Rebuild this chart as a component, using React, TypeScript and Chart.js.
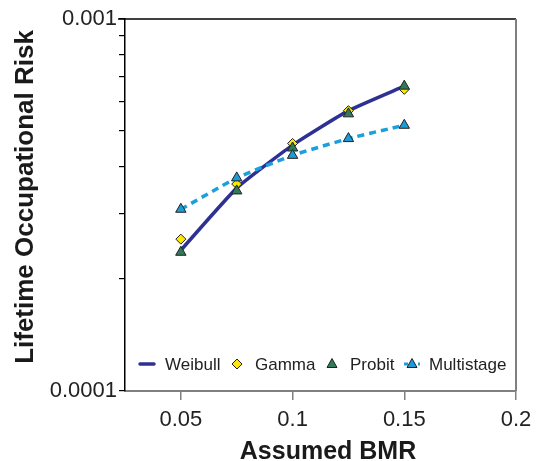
import React, { useEffect, useRef } from 'react';
import { Chart, registerables } from 'chart.js';

Chart.register(...registerables);

// ---- data ----
const bmr = [0.05, 0.075, 0.1, 0.125, 0.15];
const weibull = [2.39e-4, 3.51e-4, 4.58e-4, 5.67e-4, 6.6e-4];
const gamma = [2.56e-4, 3.6e-4, 4.63e-4, 5.67e-4, 6.47e-4];
const probit = [2.36e-4, 3.45e-4, 4.5e-4, 5.56e-4, 6.6e-4];
const multistage = [3.08e-4, 3.74e-4, 4.3e-4, 4.77e-4, 5.18e-4];

const xTicks = [0.05, 0.1, 0.15, 0.2];
const xTickLabels = ['0.05', '0.1', '0.15', '0.2'];
const yTicks = [1e-4, 2e-4, 3e-4, 4e-4, 5e-4, 6e-4, 7e-4, 8e-4, 9e-4, 1e-3];
const yTickLabels = ['0.0001', '', '', '', '', '', '', '', '', '0.001'];

const seriesNames = ['Weibull', 'Gamma', 'Probit', 'Multistage'];
const xTitle = 'Assumed BMR';
const yTitle = 'Lifetime Occupational Risk';

const FONT = '"Liberation Sans", Arial, Helvetica, sans-serif';
const WEIBULL_COLOR = '#2E3192';
const GAMMA_COLOR = '#FFE800';
const PROBIT_COLOR = '#2F7A58';
const MULTI_LINE = '#1AA0DC';
const MULTI_FILL = '#1E9AD6';
const MARKER_BORDER = '#222222';

const pts = (ys: number[]) => bmr.map((x, i) => ({ x, y: ys[i] }));

const framePlugin = {
  id: 'frame',
  afterDraw(chart: any) {
    const { ctx, chartArea: a } = chart;
    ctx.save();
    ctx.strokeStyle = '#000';
    ctx.lineWidth = 1.5;
    ctx.beginPath();
    ctx.moveTo(a.left - 7, a.top);
    ctx.lineTo(a.right, a.top);
    ctx.stroke();
    ctx.strokeStyle = '#808080';
    ctx.lineWidth = 2;
    ctx.beginPath();
    ctx.moveTo(a.right, a.top);
    ctx.lineTo(a.right, a.bottom);
    ctx.stroke();
    ctx.restore();
  },
};

const titlesPlugin = {
  id: 'titles',
  afterDraw(chart: any) {
    const { ctx } = chart;
    ctx.save();
    ctx.fillStyle = '#1a1a1a';
    ctx.textAlign = 'center';
    ctx.textBaseline = 'alphabetic';
    ctx.font = `bold 25px ${FONT}`;
    ctx.fillText(xTitle, 328, 459);
    ctx.translate(33, 197);
    ctx.rotate(-Math.PI / 2);
    ctx.font = `bold 26px ${FONT}`;
    ctx.fillText(yTitle, 0, 0);
    ctx.restore();
  },
};

const legendPlugin = {
  id: 'customLegend',
  afterDraw(chart: any) {
    const { ctx } = chart;
    const y = 364;
    ctx.save();
    ctx.font = `17px ${FONT}`;
    ctx.fillStyle = '#222';
    ctx.textBaseline = 'middle';
    ctx.textAlign = 'left';
    // Weibull
    ctx.strokeStyle = WEIBULL_COLOR;
    ctx.lineWidth = 3.5;
    ctx.lineCap = 'round';
    ctx.beginPath();
    ctx.moveTo(140, y);
    ctx.lineTo(154, y);
    ctx.stroke();
    ctx.lineCap = 'butt';
    ctx.fillText(seriesNames[0], 165, y + 1);
    // Gamma
    ctx.lineWidth = 1;
    ctx.strokeStyle = MARKER_BORDER;
    ctx.fillStyle = GAMMA_COLOR;
    ctx.beginPath();
    ctx.moveTo(237, y - 5);
    ctx.lineTo(242, y);
    ctx.lineTo(237, y + 5);
    ctx.lineTo(232, y);
    ctx.closePath();
    ctx.fill();
    ctx.stroke();
    ctx.fillStyle = '#222';
    ctx.fillText(seriesNames[1], 255, y + 1);
    // Probit
    const tri = (cx: number, fill: string) => {
      ctx.fillStyle = fill;
      ctx.strokeStyle = MARKER_BORDER;
      ctx.lineWidth = 1;
      ctx.beginPath();
      ctx.moveTo(cx, y - 5.5);
      ctx.lineTo(cx + 5, y + 3.5);
      ctx.lineTo(cx - 5, y + 3.5);
      ctx.closePath();
      ctx.fill();
      ctx.stroke();
    };
    tri(332, PROBIT_COLOR);
    ctx.fillStyle = '#222';
    ctx.fillText(seriesNames[2], 350, y + 1);
    // Multistage
    ctx.strokeStyle = MULTI_LINE;
    ctx.lineWidth = 3;
    ctx.setLineDash([4, 3]);
    ctx.beginPath();
    ctx.moveTo(404, y);
    ctx.lineTo(420, y);
    ctx.stroke();
    ctx.setLineDash([]);
    tri(412, MULTI_FILL);
    ctx.fillStyle = '#222';
    ctx.fillText(seriesNames[3], 429, y + 1);
    ctx.restore();
  },
};

export default function App() {
  const ref = useRef<HTMLCanvasElement | null>(null);

  useEffect(() => {
    if (!ref.current) return;
    const chart = new Chart(ref.current, {
      type: 'line',
      data: {
        datasets: [
          {
            label: seriesNames[0],
            data: pts(weibull),
            borderColor: WEIBULL_COLOR,
            borderWidth: 3.5,
            pointRadius: 0,
            tension: 0.15,
            order: 4,
          },
          {
            label: seriesNames[1],
            data: pts(gamma),
            showLine: false,
            pointStyle: 'rectRot',
            pointRadius: 5,
            pointBackgroundColor: GAMMA_COLOR,
            pointBorderColor: MARKER_BORDER,
            pointBorderWidth: 1,
            order: 3,
          },
          {
            label: seriesNames[2],
            data: pts(probit),
            showLine: false,
            pointStyle: 'triangle',
            pointRadius: 6,
            pointBackgroundColor: PROBIT_COLOR,
            pointBorderColor: MARKER_BORDER,
            pointBorderWidth: 1,
            order: 2,
          },
          {
            label: seriesNames[3],
            data: pts(multistage),
            borderColor: MULTI_LINE,
            borderWidth: 3.5,
            borderDash: [7, 5],
            tension: 0.15,
            pointStyle: 'triangle',
            pointRadius: 6,
            pointBackgroundColor: MULTI_FILL,
            pointBorderColor: MARKER_BORDER,
            pointBorderWidth: 1,
            order: 1,
          },
        ],
      },
      options: {
        animation: false,
        responsive: false,
        maintainAspectRatio: false,
        layout: { padding: { left: 0, top: 19, right: 23, bottom: 0 } },
        plugins: {
          legend: { display: false },
          tooltip: { enabled: false },
        },
        scales: {
          x: {
            type: 'linear',
            min: 0.025,
            max: 0.2,
            afterBuildTicks: (scale: any) => {
              scale.ticks = xTicks.map((v) => ({ value: v }));
            },
            afterFit: (scale: any) => {
              scale.height = 70;
            },
            ticks: {
              autoSkip: false,
              maxRotation: 0,
              padding: 7,
              color: '#222',
              font: { family: FONT, size: 22 },
              callback: (_v: any, i: number) => xTickLabels[i],
            },
            grid: {
              drawOnChartArea: false,
              color: '#808080',
              lineWidth: 1.5,
              tickLength: 9,
            },
            border: { color: '#808080', width: 2 },
          },
          y: {
            type: 'logarithmic',
            min: 1e-4,
            max: 1e-3,
            afterBuildTicks: (scale: any) => {
              scale.ticks = yTicks.map((v) => ({ value: v }));
            },
            afterFit: (scale: any) => {
              scale.width = 125;
            },
            ticks: {
              autoSkip: false,
              padding: 2,
              color: '#222',
              font: { family: FONT, size: 22 },
              callback: (_v: any, i: number) => yTickLabels[i],
            },
            grid: {
              drawOnChartArea: false,
              color: '#000',
              lineWidth: 1.2,
              tickLength: 6,
            },
            border: { color: '#000', width: 1.5 },
          },
        },
      },
      plugins: [framePlugin, titlesPlugin, legendPlugin],
    });
    return () => chart.destroy();
  }, []);

  return (
    <div style={{ position: 'absolute', left: 0, top: 0, width: 539, height: 461, background: '#fff' }}>
      <canvas ref={ref} width={539} height={461} style={{ display: 'block', width: 539, height: 461 }} />
    </div>
  );
}
